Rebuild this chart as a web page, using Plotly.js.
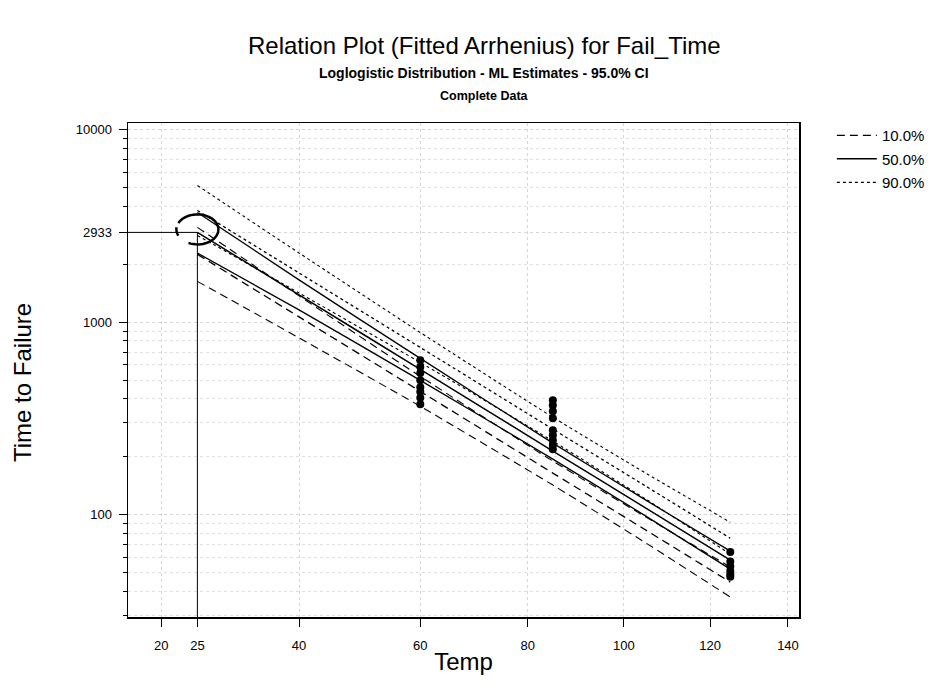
<!DOCTYPE html>
<html><head><meta charset="utf-8">
<script src="https://cdn.plot.ly/plotly-3.0.1.min.js"></script>
<style>html,body{margin:0;padding:0;background:#fff}</style>
</head><body><div id="chart" style="width:933px;height:689px"></div>
<script>
// ---- axis ticks ----
const tempTicks = [20, 25, 40, 60, 80, 100, 120, 140];
const tempTickText = ['20', '25', '40', '60', '80', '100', '120', '140'];
const gridTemps = [20, 40, 60, 80, 100, 120, 140];
const yTickVals = [100, 1000, 2933, 10000];
const yTickText = ['100', '1000', '2933', '10000'];
const yMinorVals = [30, 40, 50, 60, 70, 80, 90, 200, 300, 400, 500, 600, 700, 800, 900,
                    2000, 4000, 5000, 6000, 7000, 8000, 9000];

// ---- fitted percentile lines and 95% bounds ----
const lineTemps = [25, 40, 60, 85, 105, 125];
const p10      = [2255, 1067, 437.5, 164.5, 82.9, 44.6];
const p10Upper = [3115, 1372, 523.4, 189.9, 96.9, 53.4];
const p10Lower = [1632, 830, 365.7, 142.5, 71.0, 37.3];
const p50      = [2933, 1388, 569, 214, 107.8, 58.0];
const p50Upper = [3725, 1661, 649, 235.5, 118.6, 64.6];
const p50Lower = [2290, 1160, 499, 194.5, 98.0, 52.1];
const p90      = [3815, 1805, 740, 278.3, 140.2, 75.4];
const p90Upper = [5145, 2293, 885, 321, 163.8, 91.3];
const p90Lower = [2829, 1421, 618.5, 241.1, 120.0, 62.3];

// ---- failure data ----
const fail60  = [635, 585, 545, 500, 460, 435, 405, 375];
const fail85  = [393, 371, 345, 317, 275, 259, 244, 230, 219];
const fail125 = [64, 57, 54, 51, 49, 47.5];

// ---- reference point ----
const refTemp = 25;
const refTime = 2933;

// Arrhenius scale: 1/(T in Kelvin), axis reversed
const invK = t => 1 / (t + 273.15);
const xRange = [0.0034637, 0.0024030];
const yRange = [1.468, 4.036];
const yBottom = Math.pow(10, yRange[0]);

const FONT = 'Arial, "Liberation Sans", sans-serif';
const lx = lineTemps.map(invK);

function lineTrace(y, dash, width, name, show, group) {
  return {x: lx, y: y, type: 'scatter', mode: 'lines', name: name,
    showlegend: show, legendgroup: group, hoverinfo: 'skip',
    line: {color: '#000', width: width, dash: dash, shape: 'spline', smoothing: 0.6}};
}
const D10 = '8px,5px', D90 = '3px,3px';
const traces = [
  lineTrace(p10Upper, D10, 1.1, '10.0%', false, 'g10'),
  lineTrace(p10Lower, D10, 1.1, '10.0%', false, 'g10'),
  lineTrace(p90Upper, D90, 1.1, '90.0%', false, 'g90'),
  lineTrace(p90Lower, D90, 1.1, '90.0%', false, 'g90'),
  lineTrace(p50Upper, 'solid', 1.3, '50.0%', false, 'g50'),
  lineTrace(p50Lower, 'solid', 1.3, '50.0%', false, 'g50'),
  lineTrace(p10, D10, 1.3, '10.0%', true, 'g10'),
  lineTrace(p50, 'solid', 1.5, '50.0%', true, 'g50'),
  lineTrace(p90, D90, 1.3, '90.0%', true, 'g90'),
  {x: [].concat(fail60.map(() => invK(60)), fail85.map(() => invK(85)), fail125.map(() => invK(125))),
   y: [].concat(fail60, fail85, fail125), type: 'scatter', mode: 'markers', showlegend: false,
   marker: {color: '#000', size: 8, symbol: 'circle'}, hoverinfo: 'x+y'}
];

function arcPath(cx, cy, rx, ry, a0, a1, n) {
  let d = '';
  for (let i = 0; i <= n; i++) {
    const a = (a0 + (a1 - a0) * i / n) * Math.PI / 180;
    d += (i ? 'L' : 'M') + (cx + rx * Math.cos(a)).toFixed(1) + ',' + (cy + ry * Math.sin(a)).toFixed(1);
  }
  return d;
}

const GRID = '#d6d6d6';
const layout = {
  width: 933, height: 689,
  margin: {l: 128, r: 134, t: 123, b: 72, autoexpand: false},
  paper_bgcolor: '#fff', plot_bgcolor: '#fff',
  font: {family: FONT, color: '#000', size: 13},
  showlegend: true,
  legend: {x: 1.049, y: 1.008, xanchor: 'left', yanchor: 'top', font: {size: 15, family: FONT},
           traceorder: 'grouped', tracegroupgap: 1, itemwidth: 40, bgcolor: 'rgba(0,0,0,0)'},
  xaxis: {
    type: 'linear', range: xRange, tickmode: 'array', automargin: false,
    tickvals: tempTicks.map(invK), ticktext: tempTickText,
    ticks: 'outside', ticklen: 8, tickcolor: '#000', tickwidth: 1, ticklabelstandoff: 8,
    showline: true, linecolor: '#000', linewidth: 1.5, mirror: true,
    showgrid: false, zeroline: false,
    tickfont: {size: 13, family: FONT},
    minor: {tickvals: gridTemps.map(invK), ticks: '', showgrid: true, gridcolor: GRID, griddash: 'dot', gridwidth: 1},
    title: {text: 'Temp', font: {size: 24, family: FONT}, standoff: 1}
  },
  yaxis: {
    type: 'log', range: yRange, tickmode: 'array', automargin: false,
    tickvals: yTickVals, ticktext: yTickText,
    ticks: 'outside', ticklen: 8, tickcolor: '#000', tickwidth: 1, ticklabelstandoff: 4,
    showline: true, linecolor: '#000', linewidth: 1.5, mirror: true,
    showgrid: true, gridcolor: GRID, griddash: 'dot', gridwidth: 1, zeroline: false,
    tickfont: {size: 13, family: FONT},
    minor: {tickvals: yMinorVals, ticks: 'outside', ticklen: 4, tickcolor: '#000', tickwidth: 1,
            showgrid: true, gridcolor: '#e0e0e0', griddash: 'dot', gridwidth: 1}
  },
  shapes: [
    {type: 'line', xref: 'x', yref: 'y', x0: xRange[0], x1: invK(refTemp), y0: refTime, y1: refTime,
     line: {color: '#000', width: 1}},
    {type: 'line', xref: 'x', yref: 'y', x0: invK(refTemp), x1: invK(refTemp), y0: refTime, y1: yBottom,
     line: {color: '#000', width: 1}},
    {type: 'path', xref: 'x', yref: 'y', xsizemode: 'pixel', ysizemode: 'pixel',
     xanchor: invK(refTemp), yanchor: refTime, path: arcPath(0, 3, 21, 15, 155, -115, 40),
     line: {color: '#000', width: 2.5}},
    {type: 'path', xref: 'x', yref: 'y', xsizemode: 'pixel', ysizemode: 'pixel',
     xanchor: invK(refTemp), yanchor: refTime, path: arcPath(0, 3, 21, 15, 172, 205, 8),
     line: {color: '#000', width: 2.5}}
  ],
  annotations: [
    {text: 'Relation Plot (Fitted Arrhenius) for Fail_Time', xref: 'paper', yref: 'paper',
     x: 0.5306, y: 1.156, xanchor: 'center', yanchor: 'middle', showarrow: false,
     font: {size: 24, family: FONT}},
    {text: '<b>Loglogistic Distribution - ML Estimates - 95.0% CI</b>', xref: 'paper', yref: 'paper',
     x: 0.5306, y: 1.101, xanchor: 'center', yanchor: 'middle', showarrow: false,
     font: {size: 14, family: FONT}},
    {text: '<b>Complete Data</b>', xref: 'paper', yref: 'paper',
     x: 0.5306, y: 1.055, xanchor: 'center', yanchor: 'middle', showarrow: false,
     font: {size: 12.5, family: FONT}},
    {text: 'Time to Failure', xref: 'paper', yref: 'paper', x: -0.158, y: 0.4757,
     xanchor: 'center', yanchor: 'middle', textangle: -90, showarrow: false,
     font: {size: 24, family: FONT}}
  ]
};

Plotly.newPlot('chart', traces, layout, {displayModeBar: false, staticPlot: true});
</script>
</body></html>
